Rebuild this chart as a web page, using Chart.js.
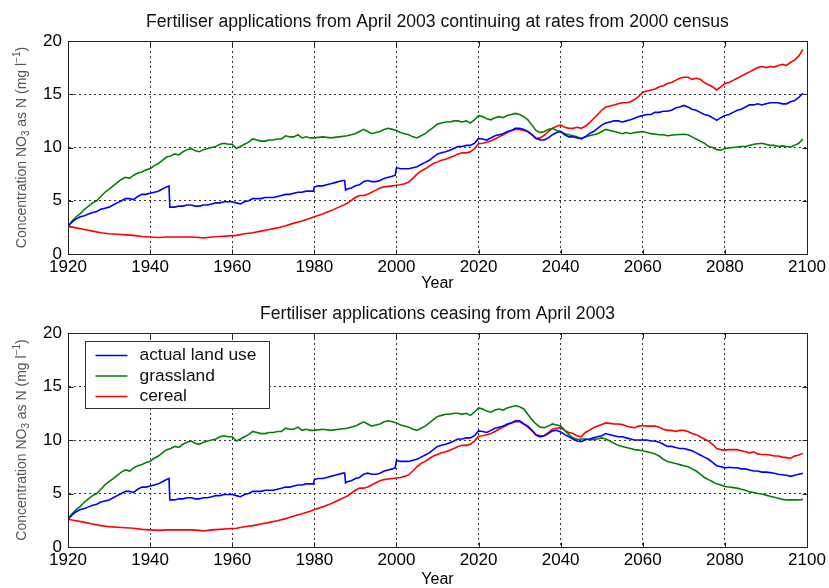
<!DOCTYPE html>
<html><head><meta charset="utf-8">
<script src="https://cdn.jsdelivr.net/npm/chart.js@4.4.1/dist/chart.umd.min.js"></script>
<style>html,body{margin:0;padding:0;background:#fff;}canvas{display:block;}</style>
</head><body>
<canvas id="c1" width="829" height="294"></canvas>
<canvas id="c2" width="829" height="294"></canvas>
<script>
// ---------------- DATA ----------------
const xTicks = [1920,1940,1960,1980,2000,2020,2040,2060,2080,2100];
const yTicks = [0,5,10,15,20];
const seriesNames = ['actual land use','grassland','cereal'];
const chartTitles = ['Fertiliser applications from April 2003 continuing at rates from 2000 census',
                     'Fertiliser applications ceasing from April 2003'];
const xLabel = 'Year';

// common history (1920-2030), [year, concentration]
const actualBase = [[1920,2.6],[1921,3.0],[1922,3.3],[1923,3.5],[1924,3.6],[1925,3.75],[1926,3.9],[1927,4.0],[1928,4.2],[1929,4.3],[1930,4.4],[1931,4.6],[1932,4.8],[1933,5.0],[1934,5.2],[1935,5.2],[1936,5.1],[1937,5.4],[1938,5.6],[1939,5.6],[1940,5.7],[1941,5.8],[1942,5.9],[1943,6.1],[1944,6.3],[1944.6,6.4],[1944.8,4.4],[1946,4.4],[1947,4.5],[1948,4.5],[1949,4.6],[1950,4.6],[1951,4.5],[1952,4.5],[1953,4.6],[1954,4.6],[1955,4.7],[1956,4.8],[1957,4.8],[1958,4.9],[1959,4.9],[1960,4.9],[1961,4.8],[1962,4.7],[1963,4.9],[1964,5.0],[1965,5.2],[1966,5.2],[1967,5.2],[1968,5.3],[1969,5.3],[1970,5.3],[1971,5.4],[1972,5.5],[1973,5.6],[1974,5.6],[1975,5.7],[1976,5.8],[1977,5.8],[1978,5.9],[1979,5.9],[1979.8,5.9],[1980,6.3],[1981,6.4],[1982,6.4],[1983,6.5],[1984,6.6],[1985,6.7],[1986,6.8],[1987,6.9],[1987.4,6.9],[1987.6,6.0],[1988,6.1],[1989,6.2],[1990,6.4],[1991,6.5],[1992,6.8],[1993,6.9],[1994,6.8],[1995,6.8],[1996,6.9],[1997,7.1],[1998,7.2],[1999,7.3],[1999.7,7.4],[2000,8.1],[2001,8.0],[2002,8.0],[2003,8.0],[2004,8.1],[2005,8.2],[2006,8.4],[2007,8.6],[2008,8.8],[2009,9.1],[2010,9.4],[2011,9.5],[2012,9.6],[2013,9.75],[2014,9.9],[2015,10.1],[2016,10.1],[2017,10.2],[2018,10.2],[2019,10.4],[2020,10.85],[2021,10.8],[2022,10.7],[2023,10.9],[2024,11.1],[2025,11.2],[2026,11.3],[2027,11.5],[2028,11.6],[2029,11.8],[2030,11.8]];
const grassBase = [[1920,2.6],[1921,3.1],[1922,3.5],[1923,3.8],[1924,4.2],[1925,4.5],[1926,4.8],[1927,5.0],[1928,5.4],[1929,5.8],[1930,6.1],[1931,6.4],[1932,6.7],[1933,7.0],[1934,7.2],[1935,7.1],[1936,7.4],[1937,7.6],[1938,7.7],[1939,7.9],[1940,8.0],[1941,8.3],[1942,8.5],[1943,8.8],[1944,9.1],[1945,9.2],[1946,9.4],[1947,9.3],[1948,9.6],[1949,9.8],[1950,9.9],[1951,9.7],[1952,9.6],[1953,9.8],[1954,9.9],[1955,10.0],[1956,10.1],[1957,10.3],[1958,10.4],[1959,10.3],[1960,10.3],[1961,9.9],[1962,10.1],[1963,10.3],[1964,10.5],[1965,10.8],[1966,10.7],[1967,10.6],[1968,10.6],[1969,10.7],[1970,10.7],[1971,10.8],[1972,10.8],[1973,11.1],[1974,11.0],[1975,11.0],[1976,11.2],[1977,10.9],[1978,11.0],[1979,10.9],[1980,10.9],[1982,11.0],[1984,10.9],[1986,11.0],[1988,11.1],[1990,11.3],[1991,11.5],[1992,11.7],[1993,11.5],[1994,11.3],[1995,11.4],[1996,11.5],[1997,11.7],[1998,11.8],[1999,11.7],[2000,11.6],[2001,11.4],[2002,11.3],[2003,11.2],[2004,11.0],[2005,10.9],[2006,11.1],[2007,11.3],[2008,11.6],[2009,11.9],[2010,12.2],[2011,12.3],[2012,12.4],[2013,12.4],[2014,12.5],[2015,12.5],[2016,12.4],[2017,12.5],[2018,12.3],[2019,12.6],[2020,13.0],[2021,12.9],[2022,12.7],[2023,12.6],[2024,12.8],[2025,12.9],[2026,12.8],[2027,13.0],[2028,13.1],[2029,13.2],[2030,13.1]];
const cerealBase = [[1920,2.6],[1922,2.45],[1924,2.3],[1926,2.15],[1928,2.0],[1930,1.9],[1932,1.85],[1934,1.8],[1936,1.75],[1938,1.65],[1940,1.6],[1942,1.55],[1944,1.6],[1946,1.6],[1948,1.6],[1950,1.6],[1952,1.55],[1953,1.5],[1955,1.6],[1957,1.65],[1959,1.7],[1961,1.75],[1963,1.9],[1965,2.0],[1967,2.15],[1969,2.3],[1971,2.45],[1973,2.65],[1975,2.9],[1977,3.1],[1979,3.35],[1980,3.5],[1982,3.75],[1984,4.05],[1986,4.4],[1988,4.75],[1990,5.3],[1991,5.5],[1992,5.5],[1993,5.6],[1994,5.8],[1995,6.0],[1996,6.2],[1997,6.3],[1998,6.35],[1999,6.4],[2000,6.45],[2001,6.5],[2002,6.6],[2003,6.75],[2004,7.1],[2005,7.5],[2006,7.8],[2007,8.0],[2008,8.25],[2009,8.5],[2010,8.65],[2011,8.8],[2012,8.9],[2013,9.05],[2014,9.2],[2015,9.4],[2016,9.5],[2017,9.5],[2018,9.6],[2019,9.9],[2020,10.35],[2021,10.4],[2022,10.5],[2023,10.6],[2024,10.8],[2025,11.0],[2026,11.2],[2027,11.4],[2028,11.6],[2029,11.7],[2030,11.7]];

// scenario 1: continuing (2031-2099)
const actualCont = [[2031,11.7],[2032,11.5],[2033,11.2],[2034,10.85],[2035,10.7],[2036,10.7],[2037,10.9],[2038,11.2],[2039,11.4],[2040,11.5],[2041,11.2],[2042,11.0],[2043,11.0],[2044,10.9],[2045,10.85],[2046,11.0],[2047,11.3],[2048,11.5],[2049,11.8],[2050,12.1],[2051,12.3],[2052,12.4],[2053,12.5],[2054,12.5],[2055,12.4],[2056,12.5],[2057,12.6],[2058,12.75],[2059,12.9],[2060,13.0],[2061,13.1],[2062,13.1],[2063,13.3],[2064,13.3],[2065,13.4],[2066,13.4],[2067,13.5],[2068,13.7],[2069,13.8],[2070,13.95],[2071,13.8],[2072,13.6],[2073,13.5],[2074,13.3],[2075,13.1],[2076,13.0],[2077,12.8],[2078,12.55],[2079,12.8],[2080,13.0],[2081,13.1],[2082,13.3],[2083,13.5],[2084,13.6],[2085,13.8],[2086,14.0],[2087,14.0],[2088,14.1],[2089,14.0],[2090,14.1],[2091,14.2],[2092,14.2],[2093,14.2],[2094,14.1],[2095,14.1],[2096,14.3],[2097,14.4],[2098,14.7],[2099,15.1]];
const grassCont = [[2031,12.9],[2032,12.6],[2033,12.1],[2034,11.6],[2035,11.4],[2036,11.5],[2037,11.7],[2038,11.8],[2039,11.6],[2040,11.5],[2041,11.3],[2042,11.2],[2043,11.1],[2044,11.0],[2045,10.8],[2046,11.0],[2047,11.1],[2048,11.2],[2049,11.3],[2050,11.5],[2051,11.7],[2052,11.6],[2053,11.5],[2054,11.4],[2055,11.3],[2056,11.4],[2057,11.3],[2058,11.4],[2060,11.5],[2062,11.3],[2064,11.2],[2065,11.2],[2066,11.1],[2068,11.2],[2070,11.25],[2071,11.2],[2072,11.0],[2073,10.8],[2074,10.6],[2075,10.4],[2076,10.1],[2077,10.0],[2078,9.8],[2079,9.75],[2080,9.9],[2082,10.0],[2084,10.1],[2085,10.1],[2087,10.3],[2089,10.4],[2090,10.3],[2091,10.2],[2092,10.2],[2093,10.1],[2094,10.15],[2095,10.1],[2096,10.05],[2097,10.2],[2098,10.4],[2099,10.8]];
const cerealCont = [[2031,11.6],[2032,11.5],[2033,11.2],[2034,10.85],[2035,10.9],[2036,11.15],[2037,11.5],[2038,11.8],[2039,12.0],[2040,12.1],[2041,11.9],[2042,11.8],[2043,11.8],[2044,11.9],[2045,11.8],[2046,12.0],[2047,12.3],[2048,12.7],[2049,13.1],[2050,13.5],[2051,13.8],[2052,13.9],[2053,14.0],[2054,14.1],[2055,14.2],[2056,14.2],[2057,14.3],[2058,14.5],[2059,14.8],[2060,15.2],[2061,15.3],[2062,15.4],[2063,15.5],[2064,15.7],[2065,15.8],[2066,16.0],[2067,16.1],[2068,16.3],[2069,16.5],[2070,16.6],[2071,16.6],[2072,16.4],[2073,16.5],[2074,16.4],[2075,16.1],[2076,15.9],[2077,15.7],[2078,15.4],[2079,15.7],[2080,16.0],[2081,16.1],[2082,16.3],[2083,16.5],[2084,16.7],[2085,16.9],[2086,17.1],[2087,17.3],[2088,17.5],[2089,17.6],[2090,17.5],[2091,17.6],[2092,17.55],[2093,17.7],[2094,17.8],[2095,17.7],[2096,18.0],[2097,18.2],[2098,18.6],[2099,19.2]];

// scenario 2: ceasing (2031-2099)
const actualCease = [[2031,11.5],[2032,11.3],[2033,10.9],[2034,10.45],[2035,10.3],[2036,10.4],[2037,10.6],[2038,10.85],[2039,10.9],[2040,10.75],[2041,10.5],[2042,10.3],[2043,10.1],[2044,9.9],[2045,9.85],[2046,10.05],[2047,10.1],[2048,10.2],[2049,10.3],[2050,10.4],[2051,10.6],[2052,10.5],[2053,10.4],[2054,10.3],[2055,10.3],[2056,10.2],[2057,10.1],[2058,10.0],[2059,10.0],[2060,10.0],[2061,10.0],[2062,9.9],[2063,9.9],[2064,9.8],[2065,9.6],[2066,9.4],[2067,9.4],[2068,9.3],[2069,9.2],[2070,9.2],[2071,9.1],[2072,9.0],[2073,8.8],[2074,8.6],[2075,8.4],[2076,8.2],[2077,7.9],[2078,7.6],[2079,7.5],[2080,7.4],[2081,7.45],[2082,7.4],[2083,7.4],[2084,7.3],[2085,7.3],[2086,7.2],[2087,7.1],[2088,7.1],[2089,7.0],[2090,7.0],[2091,6.95],[2092,6.9],[2093,6.8],[2094,6.75],[2095,6.7],[2096,6.6],[2097,6.7],[2098,6.8],[2099,6.9]];
const grassCease = [[2031,12.9],[2032,12.4],[2033,11.9],[2034,11.5],[2035,11.2],[2036,11.15],[2037,11.3],[2038,11.5],[2039,11.4],[2040,11.3],[2041,10.9],[2042,10.5],[2043,10.2],[2044,10.05],[2045,10.1],[2046,10.1],[2047,10.0],[2048,10.05],[2049,10.1],[2050,10.2],[2051,10.1],[2052,9.9],[2053,9.7],[2054,9.5],[2055,9.4],[2056,9.3],[2057,9.2],[2058,9.1],[2059,9.05],[2060,9.0],[2061,8.9],[2062,8.8],[2063,8.7],[2064,8.5],[2065,8.2],[2066,8.0],[2067,7.9],[2068,7.8],[2069,7.7],[2070,7.6],[2071,7.5],[2072,7.3],[2073,7.1],[2074,6.8],[2075,6.5],[2076,6.3],[2077,6.1],[2078,5.9],[2079,5.8],[2080,5.65],[2081,5.6],[2082,5.55],[2083,5.5],[2084,5.4],[2085,5.3],[2086,5.15],[2087,5.1],[2088,5.0],[2089,4.95],[2090,4.85],[2091,4.75],[2092,4.65],[2093,4.55],[2094,4.45],[2095,4.4],[2096,4.4],[2097,4.4],[2098,4.4],[2099,4.45]];
const cerealCease = [[2031,11.5],[2032,11.2],[2033,10.9],[2034,10.5],[2035,10.4],[2036,10.4],[2037,10.7],[2038,11.0],[2039,11.1],[2040,11.15],[2041,10.9],[2042,10.7],[2043,10.6],[2044,10.4],[2045,10.3],[2046,10.7],[2047,10.9],[2048,11.15],[2049,11.3],[2050,11.45],[2051,11.6],[2052,11.55],[2053,11.5],[2054,11.5],[2055,11.45],[2056,11.3],[2057,11.2],[2058,11.15],[2059,11.3],[2060,11.35],[2061,11.3],[2062,11.3],[2063,11.3],[2064,11.2],[2065,11.0],[2066,10.9],[2067,10.9],[2068,10.8],[2069,10.9],[2070,10.9],[2071,10.8],[2072,10.6],[2073,10.5],[2074,10.3],[2075,10.1],[2076,9.9],[2077,9.6],[2078,9.2],[2079,9.1],[2080,9.05],[2081,9.1],[2082,9.1],[2083,9.1],[2084,9.0],[2085,8.9],[2086,8.8],[2087,8.9],[2088,8.7],[2089,8.65],[2090,8.65],[2091,8.6],[2092,8.5],[2093,8.5],[2094,8.4],[2095,8.35],[2096,8.3],[2097,8.5],[2098,8.6],[2099,8.75]];

// ---------------- STYLE / RENDER ----------------
const FONT = '"Liberation Sans", Arial, Helvetica, sans-serif';
const COLORS = ['#0000ff', '#008000', '#ff0000'];

const decor = {
  id: 'decor',
  afterDatasetsDraw(chart, args, opts) {
    const {ctx, chartArea: a, scales: {x, y}} = chart;
    const L = Math.round(a.left) + 0.5, R = Math.round(a.right) + 0.5;
    const T = Math.round(a.top) + 0.5, B = Math.round(a.bottom) + 0.5;
    ctx.save();
    ctx.setLineDash([]);
    ctx.strokeStyle = '#222';
    ctx.lineWidth = 1;
    ctx.strokeRect(L, T, R - L, B - T);
    const tl = 5;
    ctx.beginPath();
    x.ticks.forEach(t => {
      const px = Math.round(x.getPixelForValue(t.value)) + 0.5;
      ctx.moveTo(px, B); ctx.lineTo(px, B - tl);
      ctx.moveTo(px, T); ctx.lineTo(px, T + tl);
    });
    y.ticks.forEach(t => {
      const py = Math.round(y.getPixelForValue(t.value)) + 0.5;
      ctx.moveTo(L, py); ctx.lineTo(L + tl, py);
      ctx.moveTo(R, py); ctx.lineTo(R - tl, py);
    });
    ctx.stroke();
    ctx.restore();
  },
  afterDraw(chart, args, opts) {
    const {ctx, chartArea: a} = chart;
    ctx.save();
    // title
    ctx.fillStyle = '#111';
    ctx.font = '17.6px ' + FONT;
    ctx.textAlign = 'center';
    ctx.textBaseline = 'middle';
    ctx.fillText(opts.title, (a.left + a.right) / 2, opts.titleY);
    // y label with sub/superscript
    const parts = [
      {t: 'Concentration NO', s: 14, dy: 0},
      {t: '3', s: 10, dy: 4},
      {t: ' as N (mg l', s: 14, dy: 0},
      {t: '\u22121', s: 10, dy: -5},
      {t: ')', s: 14, dy: 0}
    ];
    let total = 0;
    parts.forEach(p => { ctx.font = p.s + 'px ' + FONT; p.w = ctx.measureText(p.t).width; total += p.w; });
    ctx.translate(22, (a.top + a.bottom) / 2);
    ctx.rotate(-Math.PI / 2);
    ctx.fillStyle = '#555';
    ctx.textAlign = 'left';
    ctx.textBaseline = 'middle';
    let cx = -total / 2;
    parts.forEach(p => { ctx.font = p.s + 'px ' + FONT; ctx.fillText(p.t, cx, p.dy); cx += p.w; });
    ctx.restore();
    // legend
    if (opts.legend) {
      ctx.save();
      const bx = Math.round(a.left) + 17.5, by = Math.round(a.top) + 8.5, bw = 184, bh = 67;
      ctx.fillStyle = '#fff';
      ctx.fillRect(bx, by, bw, bh);
      ctx.strokeStyle = '#333';
      ctx.lineWidth = 1;
      ctx.strokeRect(bx, by, bw, bh);
      ctx.font = '17.4px ' + FONT;
      ctx.textBaseline = 'middle';
      ctx.textAlign = 'left';
      chart.data.datasets.forEach((ds, i) => {
        const ly = by + 14 + i * 20.5;
        ctx.strokeStyle = ds.borderColor;
        ctx.lineWidth = 1.6;
        ctx.beginPath();
        ctx.moveTo(bx + 10, ly); ctx.lineTo(bx + 42, ly);
        ctx.stroke();
        ctx.fillStyle = '#111';
        ctx.fillText(ds.label, bx + 54, ly);
      });
      ctx.restore();
    }
  }
};

function makeChart(id, series, title, withLegend, geom) {
  const datasets = series.map((d, i) => ({
    label: seriesNames[i],
    data: d,
    borderColor: COLORS[i],
    backgroundColor: COLORS[i],
    borderWidth: 1.6,
    pointRadius: 0,
    tension: 0,
    fill: false
  }));
  return new Chart(document.getElementById(id), {
    type: 'line',
    data: {datasets},
    options: {
      responsive: false,
      animation: false,
      devicePixelRatio: 1,
      layout: {padding: {left: 0, right: 22, top: geom.top, bottom: 0}},
      plugins: {
        legend: {display: false},
        tooltip: {enabled: false},
        title: {display: false},
        decor: {title: title, titleY: geom.titleY, legend: withLegend}
      },
      scales: {
        x: {
          type: 'linear', min: xTicks[0], max: xTicks[xTicks.length - 1],
          afterBuildTicks: s => { s.ticks = xTicks.map(v => ({value: v})); },
          afterFit: s => { s.height = geom.xh; },
          ticks: {font: {family: FONT, size: 17}, color: '#000', padding: 3, maxRotation: 0, autoSkip: false,
                  callback: v => String(v)},
          grid: {color: '#333', lineWidth: 1, drawTicks: false},
          border: {display: true, color: '#222', dash: [2, 3]},
          title: {display: true, text: xLabel, color: '#000', font: {family: FONT, size: 16, lineHeight: 1.0}, padding: {top: 0, bottom: geom.xtPad}}
        },
        y: {
          type: 'linear', min: yTicks[0], max: yTicks[yTicks.length - 1],
          afterBuildTicks: s => { s.ticks = yTicks.map(v => ({value: v})); },
          afterFit: s => { s.width = 68; },
          ticks: {font: {family: FONT, size: 17}, color: '#000', padding: 6, callback: v => String(v)},
          grid: {color: '#333', lineWidth: 1, drawTicks: false},
          border: {display: true, color: '#222', dash: [2, 3]}
        }
      }
    },
    plugins: [decor]
  });
}

makeChart('c1', [actualBase.concat(actualCont), grassBase.concat(grassCont), cerealBase.concat(cerealCont)],
  chartTitles[0], false, {top: 41, xh: 40, titleY: 22.5, xtPad: 2});
makeChart('c2', [actualBase.concat(actualCease), grassBase.concat(grassCease), cerealBase.concat(cerealCease)],
  chartTitles[1], true, {top: 39, xh: 41, titleY: 20, xtPad: 0});
</script>
</body></html>
